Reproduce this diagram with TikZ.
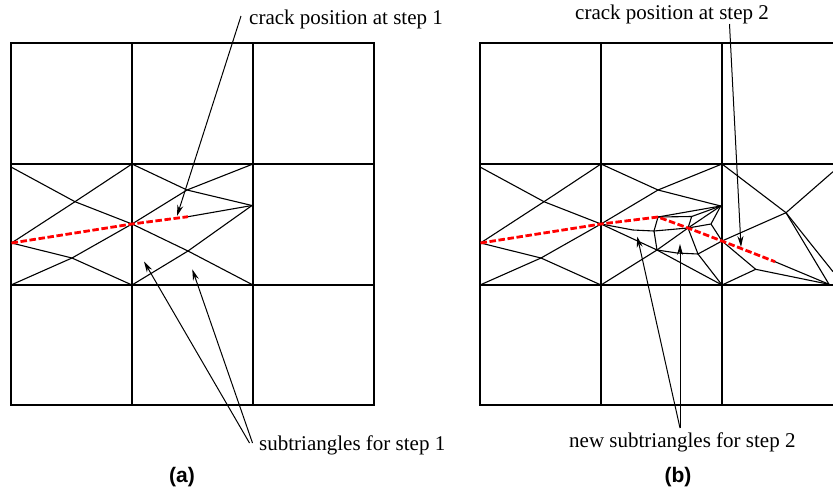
\documentclass[tikz,border=0pt]{standalone}
\usepackage{fontspec}
\setmainfont{Liberation Serif}
\setsansfont{Liberation Sans}
\usetikzlibrary{arrows.meta}
\tikzset{
  gridline/.style={line width=1.6pt,black},
  mesh/.style={line width=1.1pt,black,line join=round},
  crack/.style={line width=2.8pt,red,dash pattern=on 6.5pt off 2.6pt},
  pointer/.style={line width=1pt,black,-{Stealth[length=11pt,width=6pt]}},
  lab/.style={font=\fontsize{21}{24}\selectfont,anchor=base west,inner sep=0pt},
  panelcap/.style={font=\sffamily\bfseries\fontsize{21}{24}\selectfont,anchor=base,inner sep=0pt}
}
\begin{document}
\begin{tikzpicture}[x=1pt,y=-1pt]
\clip (0,0) rectangle (833,490);
\fill[white] (0,0) rectangle (833,490);
% ---- panel a mesh
\coordinate (aL) at (11.5,243);
\coordinate (aC) at (132,224);
\coordinate (aA) at (187,190);
\coordinate (aB) at (188,251);
\coordinate (aD) at (75,201.7);
\coordinate (aE) at (72,258);
\coordinate (aV) at (252,205.5);
\coordinate (aT) at (188,216.7);
\draw[mesh] (11,167) -- (aD) -- (aC) -- (aB) -- (253,285);
\draw[mesh] (132,164) -- (aD) -- (aL);
\draw[mesh] (11,285) -- (aE) -- (aC) -- (aA) -- (253,164);
\draw[mesh] (aL) -- (aE) -- (132,285);
\draw[mesh] (132,164) -- (aA) -- (aV);
\draw[mesh] (aT) -- (aV);
\draw[mesh] (132,285) -- (aB) -- (aV);
% ---- panel b mesh
\coordinate (bL) at (480.5,243);
\coordinate (bC) at (601,224);
\coordinate (bD) at (544,201.7);
\coordinate (bE) at (541,258);
\coordinate (bA) at (658,190);
\coordinate (bV) at (720.7,206);
\coordinate (bT) at (658,217);
\coordinate (bU) at (691.7,216.5);
\coordinate (bX) at (688,228);
\coordinate (bW) at (711,224);
\coordinate (bM) at (722,241);
\coordinate (bN) at (654,231);
\coordinate (bB) at (657,250);
\coordinate (bF) at (698,254);
\coordinate (bP) at (786,212.7);
\coordinate (bG) at (755.7,269.3);
\coordinate (bQ) at (829,284.3);
\coordinate (bZ) at (775,261.7);
\draw[mesh] (480,167) -- (bD) -- (bC) -- (bB) -- (722,285);
\draw[mesh] (601,164) -- (bD) -- (bL);
\draw[mesh] (480,285) -- (bE) -- (bC) -- (bA) -- (722,164);
\draw[mesh] (bL) -- (bE) -- (601,285);
\draw[mesh] (601,164) -- (bA) -- (bV);
\draw[mesh] (bT) -- (bV);
\draw[mesh] (bT) -- (bU) -- (bX);
\draw[mesh] (bU) -- (bV);
\draw[mesh] (601,285) -- (bB) -- (bX) -- (bV);
\draw[mesh] (bX) -- (bW) -- (bV);
\draw[mesh] (bW) -- (bM);
\draw[mesh] (bC) -- (633,230) -- (bN) -- (bX);
\draw[mesh] (bN) -- (bT);
\draw[mesh] (bN) -- (bB);
\draw[mesh] (bB) -- (677,253) -- (bF);
\draw[mesh] (bX) -- (bF) -- (722,285);
\draw[mesh] (bF) -- (bM) -- (bP);
\draw[mesh] (722,164) -- (bP) -- (833,171.7);
\draw[mesh] (bP) -- (bQ);
\draw[mesh] (bP) -- (833,271.7);
\draw[mesh] (bM) -- (bG) -- (bQ);
\draw[mesh] (722,285) -- (bG);
\draw[mesh] (bZ) -- (bQ);
% ---- grids
\draw[gridline] (11,43) rectangle (374,405);
\draw[gridline] (132,43) -- (132,405);
\draw[gridline] (253,43) -- (253,405);
\draw[gridline] (11,164) -- (374,164);
\draw[gridline] (11,285) -- (374,285);
\draw[gridline] (480,43) rectangle (843,405);
\draw[gridline] (601,43) -- (601,405);
\draw[gridline] (722,43) -- (722,405);
\draw[gridline] (480,164) -- (843,164);
\draw[gridline] (480,285) -- (843,285);
% ---- cracks
\draw[crack] (aL) -- (aC) -- (aT);
\draw[crack] (bL) -- (bC) -- (bT) -- (bX) -- (bM) -- (bZ);
% ---- labels
\node[lab] (l1) at (249,24) {crack position at step 1};
\node[lab] (l2) at (575,19.5) {crack position at step 2};
\node[lab] (l3) at (259,450.5) {subtriangles for step 1};
\node[lab] (l4) at (569,447) {new subtriangles for step 2};
\node[panelcap] (ca) at (182,482) {(a)};
\node[panelcap] (cb) at (678,482) {(b)};
% ---- pointers
\coordinate (s1) at (241,16);
\coordinate (t1) at (177,216);
\coordinate (s2) at (729.5,24);
\coordinate (t2) at (741,247);
\coordinate (s3) at (249.5,443);
\coordinate (t3) at (144,261.5);
\coordinate (s4) at (252.5,443);
\coordinate (t4) at (192.3,269.3);
\coordinate (s5) at (680,428);
\coordinate (t5) at (680,244);
\coordinate (s6) at (680,428);
\coordinate (t6) at (637.3,236.5);
\draw[pointer] (s1) -- (t1);
\draw[pointer] (s2) -- (t2);
\draw[pointer] (s3) -- (t3);
\draw[pointer] (s4) -- (t4);
\draw[pointer] (s5) -- (t5);
\draw[pointer] (s6) -- (t6);
\end{tikzpicture}
\end{document}
